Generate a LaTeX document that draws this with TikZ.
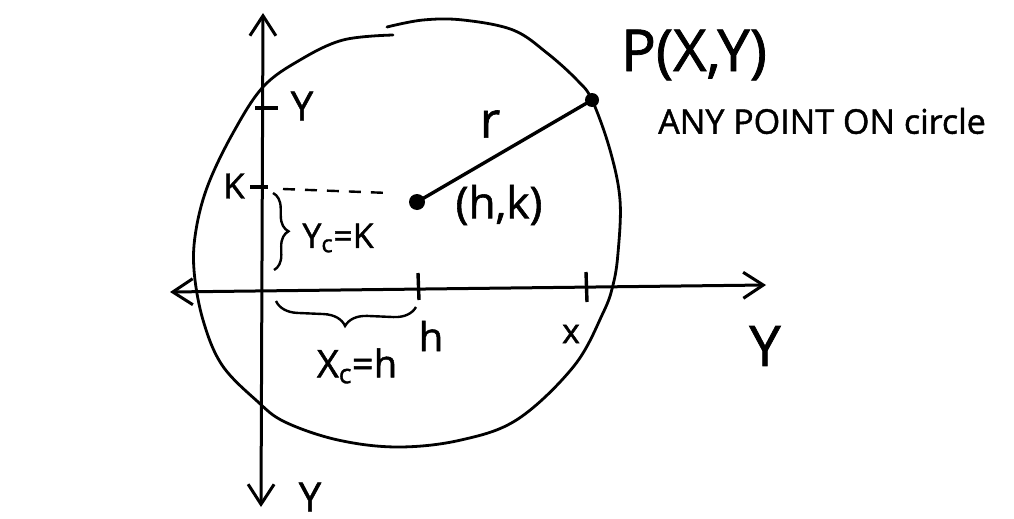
\documentclass[tikz,border=0pt]{standalone}
\usepackage{fontspec}
\setmainfont{Open Sans}
\newfontfamily\hand{Open Sans}[FakeBold=1.3]
\usetikzlibrary{arrows.meta,decorations.pathreplacing}
\begin{document}
\begin{tikzpicture}[x=1pt,y=-1pt,
  axisline/.style={line width=3pt, {Straight Barb[length=20pt,width=26pt]}-{Straight Barb[length=20pt,width=26pt]}},
  curve/.style={line width=2.8pt, line cap=round, line join=round},
  tickmark/.style={line width=3.4pt},
  dotmark/.style={circle, fill=black, inner sep=0pt},
  lbl/.style={inner sep=0pt, anchor=center},
  bracemark/.style={line width=2.4pt, decorate, decoration={brace, amplitude=#1}},
  fsz/.style={font=\hand\fontsize{#1}{#1}\selectfont}]
\useasboundingbox (0,0) rectangle (1014,519);

% axes
\coordinate (vtop) at (263,13);
\coordinate (vbot) at (261,507);
\coordinate (hl) at (170,292);
\coordinate (hr) at (766,285);
\draw[axisline] (vbot) -- (vtop);
\draw[axisline] (hl) -- (hr);

% circle
\draw[curve] plot[smooth, tension=0.6] coordinates {
 (387,27) (423,20) (463,20) (513,30) (547,53) (577,80) (592,100) (610,150)
 (620,200) (618,253) (613,285) (603,313) (574,366) (518,419) (461,440)
 (398,447) (338,440) (285,422) (257,401) (222,365) (203,320) (194,270)
 (196,230) (208,185) (233,133) (263,87) (300,60) (343,40) (393,35)};

% centre and point
\node[dotmark, minimum size=16pt] (C) at (417,202) {};
\node[dotmark, minimum size=14pt] (P) at (592,100) {};
\draw[line width=3.4pt] (C.center) -- (P.center);

% ticks
\coordinate (yt1) at (255,108); \coordinate (yt2) at (278,108);
\draw[tickmark] (yt1) -- (yt2);
\coordinate (kt1) at (250,187); \coordinate (kt2) at (268,187);
\draw[tickmark] (kt1) -- (kt2);
\coordinate (ht1) at (418,273); \coordinate (ht2) at (419,300);
\draw[tickmark] (ht1) -- (ht2);
\coordinate (xt1) at (586,272); \coordinate (xt2) at (587,302);
\draw[tickmark] (xt1) -- (xt2);

% dashed projection
\coordinate (dk) at (283,189);
\coordinate (dke) at (389,193);
\draw[line width=2.4pt, dash pattern=on 12pt off 10pt] (dk) -- (dke);

% braces
\coordinate (b1a) at (273,193); \coordinate (b1b) at (274,270);
\draw[bracemark=15pt] (b1a) -- (b1b);
\coordinate (b2a) at (416,307); \coordinate (b2b) at (276,301);
\draw[bracemark=22pt] (b2a) -- (b2b);

% labels
\node[lbl, fsz=40] (ylab) at (302,106) {Y};
\node[lbl, fsz=35] (klab) at (234,186) {K};
\node[lbl, fsz=34] (yck) at (338,238) {Y\textsubscript{c}=K};
\node[lbl, fsz=50] (rlab) at (490,124) {r};
\node[lbl, fsz=44] (hk) at (499,205) {(h,k)};
\node[lbl, fsz=40] (hlab) at (431,336) {h};
\node[lbl, fsz=34] (xlab) at (571,334) {x};
\node[lbl, fsz=38] (xch) at (357,366) {X\textsubscript{c}=h};
\node[lbl, fsz=56] (yright) at (765,346) {Y};
\node[lbl, fsz=40] (ybot) at (310,497) {Y};
\node[lbl, fsz=58] (plab) at (694,55) {P(X,Y)};
\node[lbl, fsz=34] (any) at (822,121) {ANY POINT ON circle};
\end{tikzpicture}
\end{document}
